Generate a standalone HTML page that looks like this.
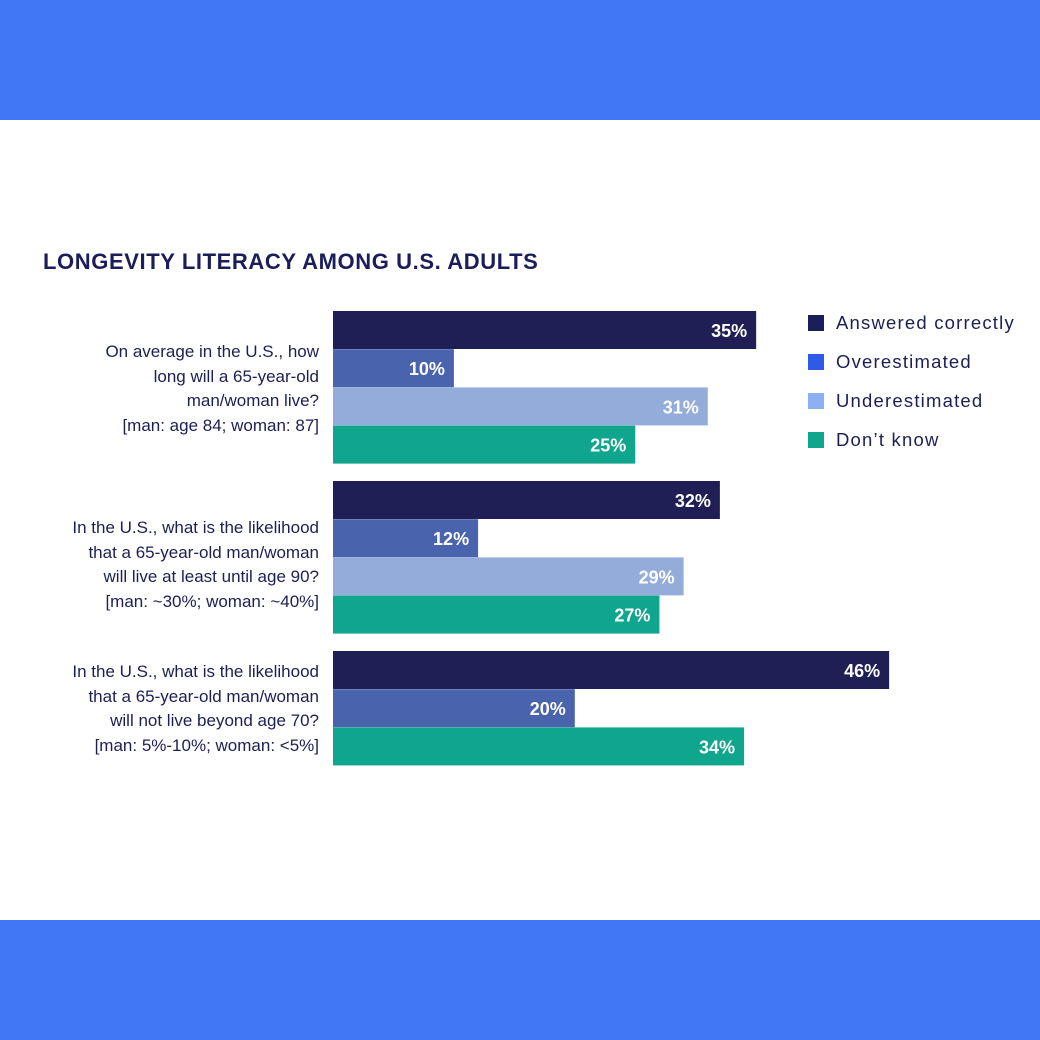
<!DOCTYPE html>
<html><head><meta charset="utf-8"><style>
body{margin:0;width:1040px;height:1040px;background:#fff;position:relative;overflow:hidden;font-family:"Liberation Sans",sans-serif;color:#1c1f54}
.band{position:absolute;left:0;width:1040px;height:120px;background:#4177f5}
#title{position:absolute;left:43px;top:249px;font-size:22px;font-weight:bold;letter-spacing:0.6px;color:#1a1d5a}
.q{position:absolute;right:721px;text-align:right;font-size:17px;line-height:24.5px;color:#1c1f54}
.leg{position:absolute;left:808px;font-size:18.5px;color:#1c1f54;letter-spacing:1.2px}
.leg span{display:inline-block;width:16px;height:16px;vertical-align:-2px;margin-right:12px}
</style></head><body>
<div class="band" style="top:0"></div>
<div class="band" style="top:920px"></div>
<div id="title">LONGEVITY LITERACY AMONG U.S. ADULTS</div>
<div class="q" style="top:340px">On average in the U.S., how<br>long will a 65-year-old<br>man/woman live?<br>[man: age 84; woman: 87]</div>
<div class="q" style="top:516px">In the U.S., what is the likelihood<br>that a 65-year-old man/woman<br>will live at least until age 90?<br>[man: ~30%; woman: ~40%]</div>
<div class="q" style="top:660px">In the U.S., what is the likelihood<br>that a 65-year-old man/woman<br>will not live beyond age 70?<br>[man: 5%-10%; woman: &lt;5%]</div>
<div class="leg" style="top:312px"><span style="background:#1a1f5c"></span>Answered correctly</div>
<div class="leg" style="top:351px"><span style="background:#2d5be8"></span>Overestimated</div>
<div class="leg" style="top:390px"><span style="background:#8db0f5"></span>Underestimated</div>
<div class="leg" style="top:429px"><span style="background:#10a68e"></span>Don’t know</div>
<svg id="chart" width="1040" height="1040" style="position:absolute;left:0;top:0"></svg>
<script>
const groups=["Q1","Q2","Q3"];
const correct=[35,32,46];
const over=[10,12,20];
const under=[31,29,null];
const dontKnow=[25,27,34];
const series=[["correct",correct,"#1f1f55"],["over",over,"#4a63ad"],["under",under,"#94acd9"],["dont-know",dontKnow,"#10a68e"]];
const x0=333,pxPer=12.09,barH=38,groupTop=[311,481,651];
const xs=v=>v*pxPer;
const svg=document.getElementById('chart');const NS="http://www.w3.org/2000/svg";
groups.forEach((g,gi)=>{let row=0;
 series.forEach(([n,vals,c])=>{const v=vals[gi];if(v==null)return;
  const y=groupTop[gi]+row*38.2;row++;
  const r=document.createElementNS(NS,'rect');
  r.setAttribute('x',x0);r.setAttribute('y',y);r.setAttribute('width',xs(v));r.setAttribute('height',barH);r.setAttribute('fill',c);
  
  
  svg.appendChild(r);
  const t=document.createElementNS(NS,'text');
  t.setAttribute('x',x0+xs(v)-9);t.setAttribute('y',y+26);t.setAttribute('text-anchor','end');
  t.setAttribute('fill','#fff');t.setAttribute('font-size','18');t.setAttribute('font-weight','bold');
  t.setAttribute('font-family','Liberation Sans, sans-serif');t.textContent=v+'%';
  
  
  svg.appendChild(t);
 });
});
</script>
</body></html>
